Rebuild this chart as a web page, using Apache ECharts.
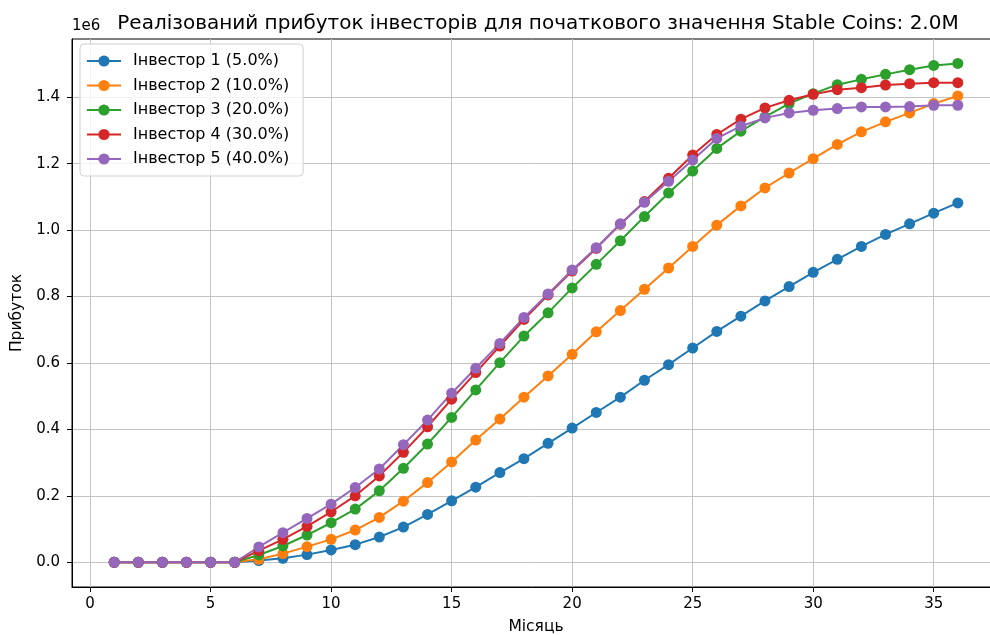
<!DOCTYPE html>
<html>
<head>
<meta charset="utf-8">
<script src="https://cdn.jsdelivr.net/npm/echarts@6/dist/echarts.min.js"></script>
<style>
  html, body { margin: 0; padding: 0; background: #fff; }
  #chart { width: 990px; height: 635px; }
</style>
</head>
<body>
<div id="chart"></div>
<script>
// місяці 1..36
const months = [1,2,3,4,5,6,7,8,9,10,11,12,13,14,15,16,17,18,19,20,21,22,23,24,25,26,27,28,29,30,31,32,33,34,35,36];

// прибуток, в одиницях 1e6
const investor1 = [0,0,0,0,0,0,0.005,0.012,0.023,0.037,0.053,0.076,0.106,0.144,0.185,0.226,0.270,0.312,0.358,0.404,0.451,0.497,0.548,0.595,0.645,0.695,0.741,0.787,0.830,0.873,0.912,0.951,0.987,1.019,1.051,1.082];
const investor2 = [0,0,0,0,0,0,0.009,0.026,0.047,0.069,0.097,0.135,0.184,0.240,0.302,0.368,0.431,0.497,0.561,0.626,0.694,0.758,0.822,0.886,0.951,1.015,1.073,1.127,1.172,1.215,1.258,1.296,1.326,1.353,1.381,1.404];
const investor3 = [0,0,0,0,0,0,0.022,0.049,0.082,0.119,0.160,0.215,0.283,0.356,0.436,0.519,0.601,0.681,0.751,0.826,0.897,0.968,1.041,1.112,1.178,1.246,1.298,1.341,1.381,1.411,1.438,1.454,1.469,1.483,1.496,1.502];
const investor4 = [0,0,0,0,0,0,0.035,0.069,0.108,0.152,0.200,0.260,0.331,0.408,0.491,0.571,0.651,0.731,0.805,0.877,0.945,1.018,1.086,1.156,1.226,1.288,1.334,1.368,1.391,1.409,1.423,1.429,1.437,1.441,1.444,1.444];
const investor5 = [0,0,0,0,0,0,0.046,0.089,0.132,0.175,0.225,0.281,0.354,0.428,0.509,0.584,0.659,0.737,0.808,0.880,0.947,1.019,1.084,1.147,1.211,1.276,1.313,1.338,1.353,1.361,1.366,1.371,1.371,1.372,1.376,1.376];

const names = ['Інвестор 1 (5.0%)', 'Інвестор 2 (10.0%)', 'Інвестор 3 (20.0%)', 'Інвестор 4 (30.0%)', 'Інвестор 5 (40.0%)'];
const colors = ['#1f77b4', '#ff7f0e', '#2ca02c', '#d62728', '#9467bd'];

const xTicks = [0, 5, 10, 15, 20, 25, 30, 35];
const yTicks = [0, 0.2, 0.4, 0.6, 0.8, 1.0, 1.2, 1.4];

const font = 'DejaVu Sans';
const chart = echarts.init(document.getElementById('chart'));

const allData = [investor1, investor2, investor3, investor4, investor5];

const option = {
    animation: false,
    textStyle: { fontFamily: font },
    title: {
        text: 'Реалізований прибуток інвесторів для початкового значення Stable Coins: 2.0M',
        left: 533,
        textAlign: 'center',
        top: 9,
        textStyle: { fontFamily: font, fontSize: 20, fontWeight: 'normal', color: '#000' }
    },
    graphic: [{
        type: 'text',
        left: 72,
        top: 19,
        style: { text: '1e6', font: '15px "DejaVu Sans"', fill: '#000' }
    }],
    legend: {
        orient: 'vertical',
        left: 80,
        top: 44,
        data: names,
        itemWidth: 34,
        itemHeight: 14,
        itemGap: 8.5,
        padding: [9, 14, 9, 6],
        backgroundColor: 'rgba(255,255,255,0.8)',
        borderColor: '#d0d0d0',
        borderWidth: 1,
        borderRadius: 4,
        textStyle: { fontFamily: font, fontSize: 16, lineHeight: 16, color: '#000', padding: [0, 0, 0, 7] }
    },
    grid: {
        left: 72,
        top: 39,
        width: 928,
        height: 548,
        outerBoundsMode: 'none',
        show: true,
        borderColor: '#000',
        borderWidth: 1
    },
    xAxis: {
        type: 'value',
        min: -0.75,
        max: 37.75,
        name: 'Місяць',
        nameLocation: 'middle',
        nameGap: 32,
        nameTextStyle: { fontFamily: font, fontSize: 15.5, color: '#000' },
        axisLine: { onZero: false, lineStyle: { color: '#000' } },
        axisTick: { length: 5, lineStyle: { color: '#000' }, customValues: xTicks },
        axisLabel: { fontSize: 15, color: '#000', margin: 10, customValues: xTicks, formatter: v => String(v) },
        splitLine: { show: true, lineStyle: { color: '#c4c4c4', width: 1 } }
    },
    yAxis: {
        type: 'value',
        min: -0.0745,
        max: 1.5755,
        name: 'Прибуток',
        nameLocation: 'middle',
        nameGap: 46,
        nameTextStyle: { fontFamily: font, fontSize: 15.5, color: '#000' },
        axisLine: { show: true, onZero: false, lineStyle: { color: '#000' } },
        axisTick: { show: true, length: 5, lineStyle: { color: '#000' }, customValues: yTicks },
        axisLabel: { fontSize: 15, color: '#000', margin: 12, customValues: yTicks, formatter: v => v.toFixed(1) },
        splitLine: { show: true, lineStyle: { color: '#c4c4c4', width: 1 } }
    },
    series: names.map((n, i) => ({
        name: n,
        type: 'line',
        data: months.map((m, j) => [m, allData[i][j]]),
        symbol: 'circle',
        symbolSize: 11,
        color: colors[i],
        lineStyle: { width: 2, color: colors[i] },
        itemStyle: { color: colors[i] }
    }))
};

chart.setOption(option);
</script>
</body>
</html>
